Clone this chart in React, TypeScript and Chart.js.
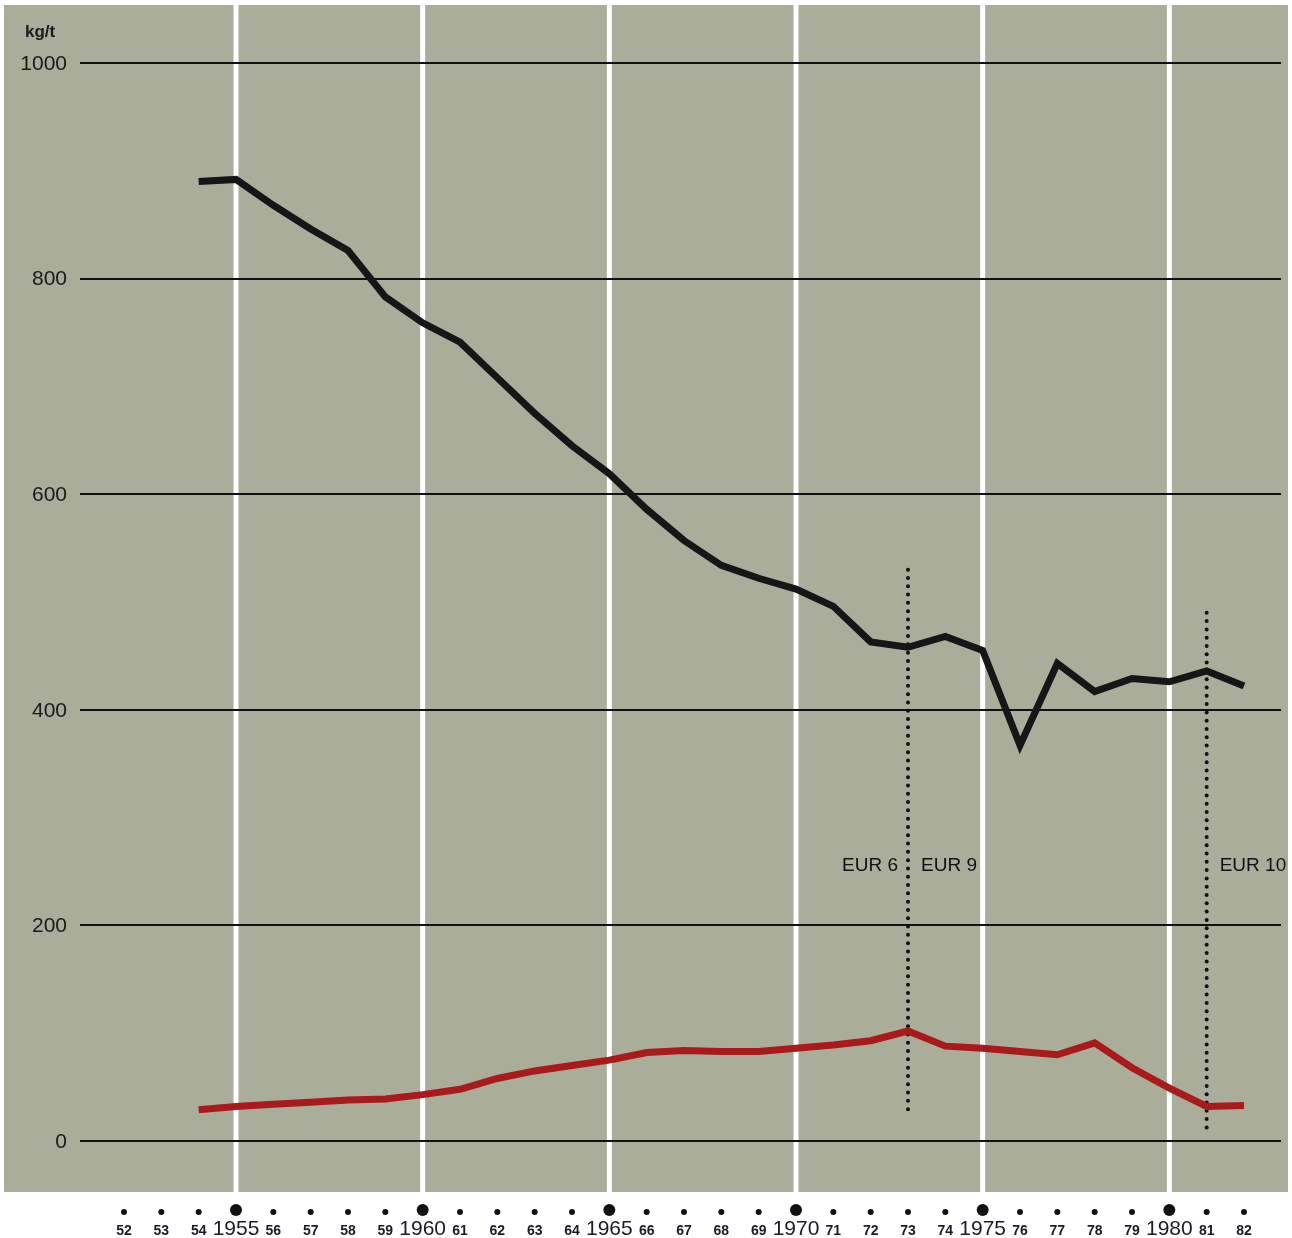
import React, { useEffect, useRef } from "react";
import { Chart, registerables } from "chart.js";

Chart.register(...registerables);

const years = [1954, 1955, 1956, 1957, 1958, 1959, 1960, 1961, 1962, 1963, 1964, 1965, 1966, 1967, 1968, 1969, 1970, 1971, 1972, 1973, 1974, 1975, 1976, 1977, 1978, 1979, 1980, 1981, 1982];
const blackSeries = [890, 892, 868, 846, 826, 783, 759, 741, 708, 675, 645, 619, 586, 557, 534, 522, 512, 496, 463, 458, 468, 455, 367, 443, 417, 429, 426, 436, 422];
const redSeries = [29, 32, 34, 36, 38, 39, 43, 48, 58, 65, 70, 75, 82, 84, 83, 83, 86, 89, 93, 102, 88, 86, 83, 80, 91, 68, 49, 32, 33];
const yTicks = [0, 200, 400, 600, 800, 1000];
const tickYears = [1952, 1953, 1954, 1955, 1956, 1957, 1958, 1959, 1960, 1961, 1962, 1963, 1964, 1965, 1966, 1967, 1968, 1969, 1970, 1971, 1972, 1973, 1974, 1975, 1976, 1977, 1978, 1979, 1980, 1981, 1982];
const majorYears = [1955, 1960, 1965, 1970, 1975, 1980];
const unitLabel = "kg/t";
const markers = [
  { year: 1973, from: 530, to: 22, left: "EUR 6", right: "EUR 9", labelValue: 255 },
  { year: 1981, from: 490, to: 12, left: "", right: "EUR 10", labelValue: 255 },
];

const BG = "#a9ad99";
const FONT = "'Liberation Sans', Arial, sans-serif";

const decorPlugin = {
  id: "decor",
  beforeDatasetsDraw(chart: any) {
    const ctx = chart.ctx;
    const xs = chart.scales.x;
    const ys = chart.scales.y;
    ctx.save();
    // background panel
    ctx.fillStyle = BG;
    ctx.fillRect(4, 5, 1284, 1187);
    // white vertical bands
    ctx.fillStyle = "#ffffff";
    majorYears.forEach((yr) => {
      const px = xs.getPixelForValue(yr);
      ctx.fillRect(px - 2.5, 5, 5, 1187);
    });
    // horizontal grid
    ctx.strokeStyle = "#111111";
    ctx.lineWidth = 2;
    yTicks.forEach((v) => {
      const py = Math.round(ys.getPixelForValue(v));
      ctx.beginPath();
      ctx.moveTo(80, py);
      ctx.lineTo(1281, py);
      ctx.stroke();
    });
    // y labels
    ctx.fillStyle = "#1a1a1a";
    ctx.font = `21px ${FONT}`;
    ctx.textAlign = "right";
    ctx.textBaseline = "middle";
    yTicks.forEach((v) => {
      ctx.fillText(String(v), 67, ys.getPixelForValue(v) + 1);
    });
    ctx.font = `bold 17px ${FONT}`;
    ctx.textAlign = "left";
    ctx.fillText(unitLabel, 25, 32);
    // dotted markers
    markers.forEach((m) => {
      const px = xs.getPixelForValue(m.year);
      const y1 = ys.getPixelForValue(m.from);
      const y2 = ys.getPixelForValue(m.to);
      ctx.fillStyle = "#111111";
      for (let y = y1; y <= y2; y += 8.3) {
        ctx.beginPath();
        ctx.arc(px, y, 2, 0, Math.PI * 2);
        ctx.fill();
      }
      const ly = ys.getPixelForValue(m.labelValue);
      ctx.font = `19px ${FONT}`;
      ctx.textBaseline = "middle";
      if (m.left) {
        ctx.textAlign = "right";
        ctx.fillText(m.left, px - 10, ly);
      }
      if (m.right) {
        ctx.textAlign = "left";
        ctx.fillText(m.right, px + 13, ly);
      }
    });
    // x axis dots and labels
    tickYears.forEach((yr) => {
      const px = xs.getPixelForValue(yr);
      const major = majorYears.includes(yr);
      ctx.fillStyle = "#111111";
      ctx.beginPath();
      ctx.arc(px, major ? 1210 : 1212, major ? 6 : 3, 0, Math.PI * 2);
      ctx.fill();
      ctx.fillStyle = "#1a1a2a";
      ctx.textAlign = "center";
      ctx.textBaseline = "alphabetic";
      if (major) {
        ctx.font = `21px ${FONT}`;
        ctx.fillText(String(yr), px, 1235);
      } else {
        ctx.font = `bold 14px ${FONT}`;
        ctx.fillText(String(yr).slice(2), px, 1235);
      }
    });
    ctx.restore();
  },
};

export default function App() {
  const ref = useRef<HTMLCanvasElement | null>(null);
  useEffect(() => {
    if (!ref.current) return;
    const chart = new Chart(ref.current, {
      type: "line",
      data: {
        datasets: [
          {
            label: "black",
            data: years.map((y, i) => ({ x: y, y: blackSeries[i] })),
            borderColor: "#161616",
            borderWidth: 7,
            pointRadius: 0,
            tension: 0,
            clip: false as any,
            borderJoinStyle: "miter",
          },
          {
            label: "red",
            data: years.map((y, i) => ({ x: y, y: redSeries[i] })),
            borderColor: "#a81a1c",
            borderWidth: 7,
            pointRadius: 0,
            tension: 0,
            clip: false as any,
            borderJoinStyle: "miter",
          },
        ],
      },
      options: {
        responsive: false,
        devicePixelRatio: 1,
        animation: false,
        layout: { padding: { left: 124, right: 48, top: 63, bottom: 97 } },
        plugins: { legend: { display: false }, tooltip: { enabled: false } },
        scales: {
          x: { type: "linear", min: 1952, max: 1982, display: false },
          y: { type: "linear", min: 0, max: 1000, display: false },
        },
      },
      plugins: [decorPlugin],
    });
    return () => chart.destroy();
  }, []);
  return (
    <div style={{ position: "fixed", left: 0, top: 0, width: 1292, height: 1238, background: "#fff" }}>
      <canvas ref={ref} width={1292} height={1238} />
    </div>
  );
}
